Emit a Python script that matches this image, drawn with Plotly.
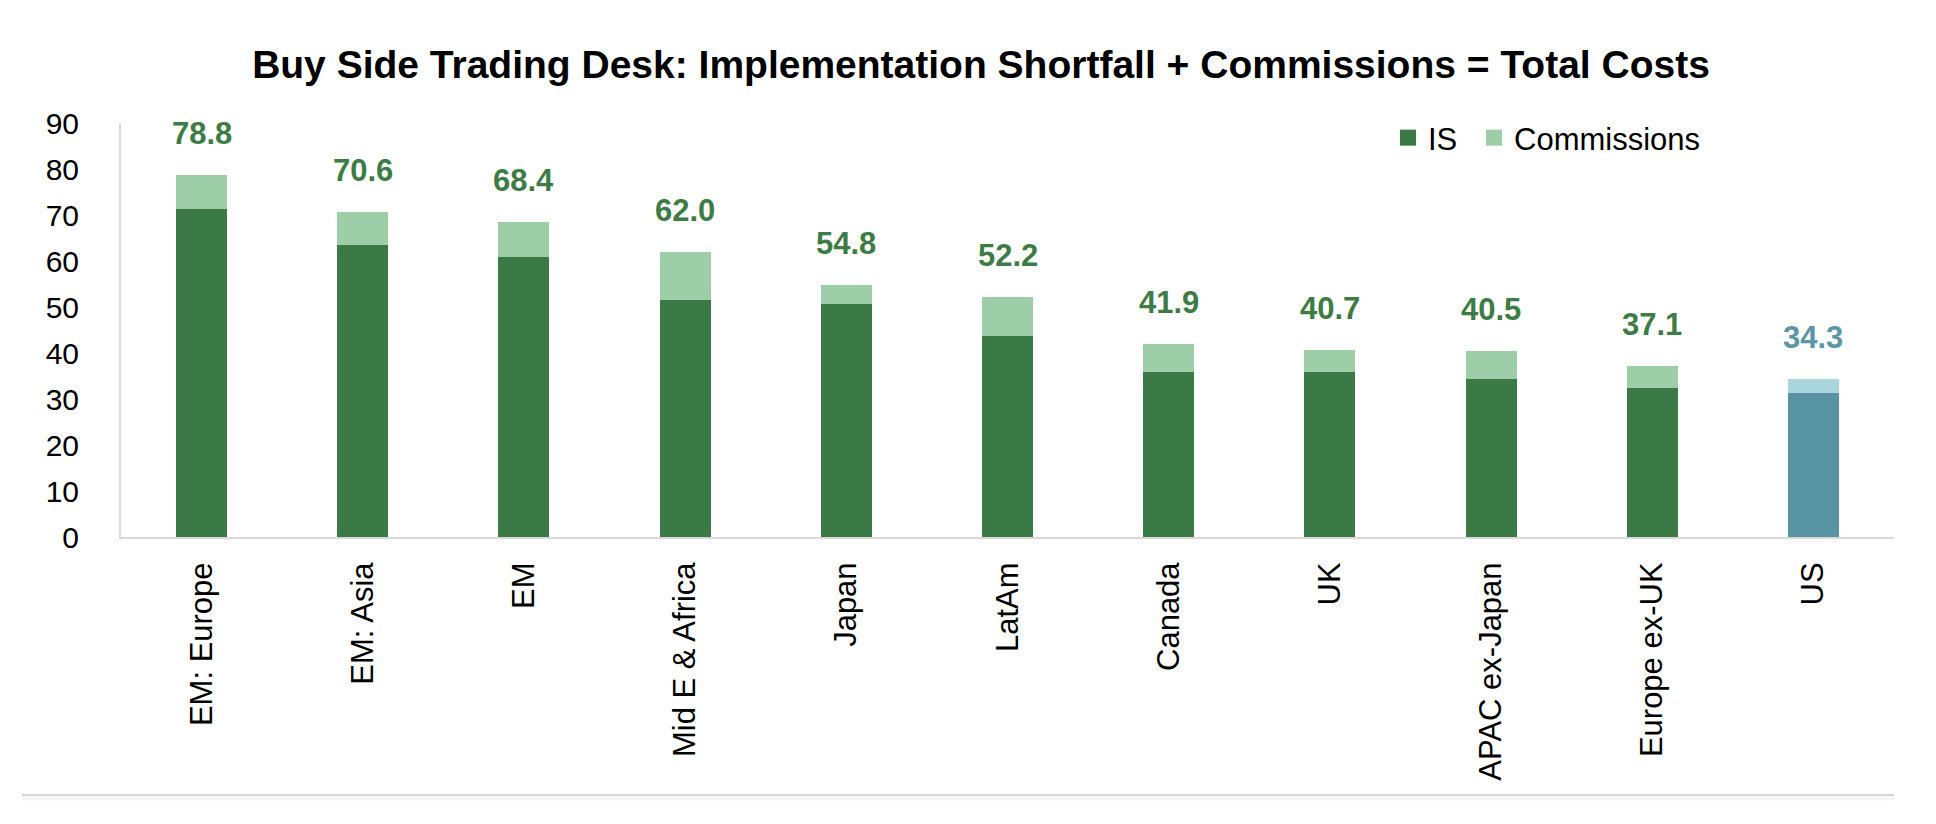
import plotly.graph_objects as go

categories = ["EM: Europe", "EM: Asia", "EM", "Mid E & Africa", "Japan", "LatAm",
              "Canada", "UK", "APAC ex-Japan", "Europe ex-UK", "US"]
is_values = [71.3, 63.5, 60.9, 51.6, 50.6, 43.8, 35.8, 35.8, 34.4, 32.5, 31.2]
totals = [78.8, 70.6, 68.4, 62.0, 54.8, 52.2, 41.9, 40.7, 40.5, 37.1, 34.3]
commissions = [round(t - i, 1) for t, i in zip(totals, is_values)]
y_ticks = [0, 10, 20, 30, 40, 50, 60, 70, 80, 90]

DARK = "#3b7a46"
LIGHT = "#9dcea8"
US_DARK = "#5793a0"
US_LIGHT = "#a9d5dc"
LABEL_GREEN = "#3d7c45"
LABEL_US = "#5a96a8"

is_colors = [US_DARK if c == "US" else DARK for c in categories]
com_colors = [US_LIGHT if c == "US" else LIGHT for c in categories]
label_colors = [LABEL_US if c == "US" else LABEL_GREEN for c in categories]

FONT = "Liberation Sans, Arial, sans-serif"

# page body has an 8px default margin; figure sized to fill the remaining window
W, H = 1928, 816

fig = go.Figure()
fig.add_trace(go.Bar(x=categories, y=is_values, name="IS", marker=dict(color=is_colors, line_width=0),
                     showlegend=False, hoverinfo="x+y"))
fig.add_trace(go.Bar(x=categories, y=commissions, name="Commissions",
                     marker=dict(color=com_colors, line_width=0), showlegend=False, hoverinfo="x+y"))
# legend entries with larger square symbols, one legend each for exact placement
fig.add_trace(go.Scatter(x=[None], y=[None], mode="markers", name="IS", legend="legend",
                         marker=dict(symbol="square", size=18, color=DARK)))
fig.add_trace(go.Scatter(x=[None], y=[None], mode="markers", name="Commissions", legend="legend2",
                         marker=dict(symbol="square", size=18, color=LIGHT)))

for c, t, col in zip(categories, totals, label_colors):
    fig.add_annotation(x=c, y=t, text=f"<b>{t:.1f}</b>", showarrow=False, yanchor="bottom",
                       yshift=22, font=dict(family=FONT, size=31, color=col))

# bottom separator line
fig.add_shape(type="line", xref="paper", yref="paper", x0=-0.0558, x1=1.0, y0=-0.623, y1=-0.623,
              line=dict(color="#d6d6d6", width=2))
fig.add_shape(type="rect", xref="paper", yref="paper", x0=-0.0558, x1=1.0, y0=-0.636, y1=-0.626,
              fillcolor="#f4f4f4", line_width=0, layer="below")

legend_common = dict(orientation="h", xanchor="left", yanchor="middle",
                     font=dict(family=FONT, size=31, color="#000000"),
                     bgcolor="rgba(0,0,0,0)", itemwidth=30)

fig.update_layout(
    width=W, height=H,
    barmode="stack", bargap=0.684,
    paper_bgcolor="white", plot_bgcolor="white",
    margin=dict(l=113, r=42, t=115, b=287, autoexpand=False),
    font=dict(family=FONT, size=30, color="#000000"),
    title=dict(text="<b>Buy Side Trading Desk: Implementation Shortfall + Commissions = Total Costs</b>",
               x=973 / W, xanchor="center", xref="container",
               y=1 - 56 / H, yanchor="middle", yref="container", automargin=False,
               font=dict(family=FONT, size=39, color="#000000")),
    legend=dict(x=(1388 - 121) / 1773, y=(537 - 138) / 414, **legend_common),
    legend2=dict(x=(1474 - 121) / 1773, y=(537 - 138) / 414, **legend_common),
    showlegend=True,
    xaxis=dict(type="category", tickangle=-90, showline=True, linecolor="#d9d9d9", linewidth=2,
               ticks="", showgrid=False, tickfont=dict(family=FONT, size=31, color="#000000"),
               ticklabelstandoff=11, fixedrange=True, automargin=False),
    yaxis=dict(range=[0, 90], tickvals=y_ticks, showline=True, linecolor="#d9d9d9", linewidth=2,
               ticks="", showgrid=False, zeroline=False, automargin=False,
               tickfont=dict(family=FONT, size=30, color="#000000"), ticklabelstandoff=34,
               fixedrange=True),
)

fig.write_html("out.html")
